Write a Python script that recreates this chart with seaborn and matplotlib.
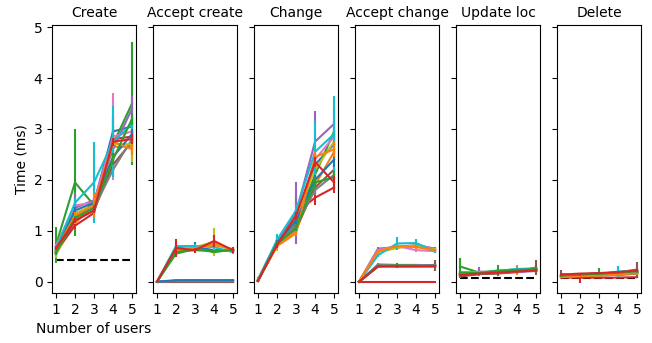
import numpy as np
import pandas as pd
import matplotlib
matplotlib.use("Agg")
import matplotlib.pyplot as plt
import seaborn as sns

# x axis
users = [1, 2, 3, 4, 5]
panel_titles = ["Create", "Accept create", "Change", "Accept change", "Update loc", "Delete"]
baselines = [0.43, None, None, None, 0.07, 0.07]

# mean times (ms), one row per run
create_mean = [
    [0.62, 1.25, 1.55, 2.95, 3.05],
    [0.55, 1.15, 1.50, 2.65, 2.65],
    [0.72, 1.95, 1.50, 2.70, 3.50],
    [0.60, 1.10, 1.35, 2.80, 2.85],
    [0.68, 1.45, 1.60, 2.60, 3.40],
    [0.58, 1.20, 1.40, 2.30, 2.75],
    [0.70, 1.50, 1.55, 2.85, 2.95],
    [0.57, 1.30, 1.45, 2.20, 2.80],
    [0.52, 1.35, 1.50, 2.70, 2.70],
    [0.65, 1.55, 1.95, 2.75, 3.10],
    [0.60, 1.40, 1.55, 2.45, 2.90],
    [0.63, 1.30, 1.50, 2.75, 2.60],
    [0.56, 1.25, 1.45, 2.40, 3.20],
    [0.66, 1.20, 1.40, 2.75, 2.80],
]
create_err = [
    [0.05, 0.08, 0.06, 0.10, 0.15],
    [0.04, 0.10, 0.08, 0.60, 0.30],
    [0.35, 1.05, 0.08, 0.15, 1.20],
    [0.04, 0.06, 0.10, 0.45, 0.10],
    [0.06, 0.30, 0.08, 0.40, 0.25],
    [0.03, 0.05, 0.06, 0.08, 0.10],
    [0.05, 0.08, 0.07, 0.85, 0.12],
    [0.04, 0.05, 0.06, 0.08, 0.10],
    [0.05, 0.22, 0.06, 0.10, 0.35],
    [0.06, 0.10, 0.80, 0.70, 0.20],
    [0.04, 0.06, 0.06, 0.08, 0.10],
    [0.05, 0.06, 0.25, 0.10, 0.12],
    [0.04, 0.05, 0.06, 0.10, 0.12],
    [0.04, 0.05, 0.06, 0.08, 0.10],
]

accept_create_mean = [
    [0, 0.66, 0.68, 0.62, 0.62],
    [0, 0.62, 0.65, 0.75, 0.62],
    [0, 0.55, 0.65, 0.58, 0.63],
    [0, 0.00, 0.00, 0.00, 0.00],
    [0, 0.02, 0.03, 0.02, 0.03],
    [0, 0.00, 0.00, 0.00, 0.00],
    [0, 0.02, 0.02, 0.03, 0.02],
    [0, 0.01, 0.01, 0.01, 0.01],
    [0, 0.64, 0.68, 0.78, 0.60],
    [0, 0.70, 0.70, 0.68, 0.58],
    [0, 0.03, 0.03, 0.03, 0.03],
    [0, 0.60, 0.66, 0.72, 0.64],
    [0, 0.58, 0.62, 0.60, 0.62],
    [0, 0.66, 0.62, 0.80, 0.62],
]
accept_create_err = [
    [0, 0.03, 0.10, 0.03, 0.03],
    [0, 0.04, 0.03, 0.06, 0.03],
    [0, 0.03, 0.03, 0.04, 0.03],
    [0, 0.00, 0.00, 0.00, 0.00],
    [0, 0.01, 0.01, 0.01, 0.01],
    [0, 0.00, 0.00, 0.00, 0.00],
    [0, 0.01, 0.01, 0.01, 0.01],
    [0, 0.01, 0.01, 0.01, 0.01],
    [0, 0.03, 0.03, 0.28, 0.03],
    [0, 0.04, 0.05, 0.03, 0.04],
    [0, 0.01, 0.01, 0.01, 0.01],
    [0, 0.03, 0.03, 0.04, 0.03],
    [0, 0.03, 0.03, 0.03, 0.03],
    [0, 0.17, 0.05, 0.12, 0.06],
]

change_mean = [
    [0.02, 0.75, 1.25, 2.30, 2.70],
    [0.03, 0.70, 1.00, 1.90, 2.55],
    [0.01, 0.78, 1.15, 2.10, 2.95],
    [0.02, 0.72, 1.35, 1.65, 1.85],
    [0.05, 0.80, 1.35, 2.75, 3.10],
    [0.02, 0.76, 1.05, 1.85, 2.20],
    [0.03, 0.74, 1.20, 2.40, 2.85],
    [0.01, 0.78, 1.10, 1.80, 2.10],
    [0.04, 0.72, 1.30, 2.20, 2.75],
    [0.03, 0.82, 1.40, 2.55, 2.90],
    [0.02, 0.76, 1.20, 2.00, 2.40],
    [0.03, 0.70, 0.95, 2.45, 2.60],
    [0.02, 0.74, 1.05, 1.95, 2.05],
    [0.02, 0.72, 1.30, 2.35, 1.95],
]
change_err = [
    [0.02, 0.05, 0.08, 0.15, 0.20],
    [0.02, 0.05, 0.06, 0.10, 0.15],
    [0.02, 0.05, 0.06, 0.10, 0.20],
    [0.02, 0.05, 0.35, 0.15, 0.10],
    [0.04, 0.08, 0.60, 0.60, 0.30],
    [0.02, 0.05, 0.06, 0.10, 0.12],
    [0.02, 0.05, 0.06, 0.10, 0.15],
    [0.02, 0.05, 0.06, 0.10, 0.12],
    [0.02, 0.12, 0.10, 0.15, 0.20],
    [0.02, 0.12, 0.10, 0.60, 0.75],
    [0.02, 0.05, 0.06, 0.10, 0.15],
    [0.02, 0.05, 0.06, 0.10, 0.15],
    [0.02, 0.05, 0.06, 0.10, 0.12],
    [0.02, 0.05, 0.06, 0.10, 0.12],
]

accept_change_mean = [
    [0, 0.32, 0.32, 0.32, 0.33],
    [0, 0.60, 0.68, 0.70, 0.62],
    [0, 0.30, 0.31, 0.31, 0.31],
    [0, 0.00, 0.00, 0.00, 0.00],
    [0, 0.65, 0.68, 0.72, 0.65],
    [0, 0.32, 0.31, 0.32, 0.32],
    [0, 0.62, 0.70, 0.62, 0.60],
    [0, 0.34, 0.33, 0.33, 0.32],
    [0, 0.58, 0.66, 0.72, 0.63],
    [0, 0.52, 0.75, 0.76, 0.60],
    [0, 0.31, 0.30, 0.30, 0.31],
    [0, 0.60, 0.70, 0.68, 0.62],
    [0, 0.30, 0.32, 0.31, 0.30],
    [0, 0.30, 0.30, 0.30, 0.30],
]
accept_change_err = [
    [0, 0.02, 0.05, 0.03, 0.03],
    [0, 0.03, 0.03, 0.03, 0.03],
    [0, 0.02, 0.02, 0.02, 0.02],
    [0, 0.00, 0.00, 0.00, 0.00],
    [0, 0.04, 0.03, 0.03, 0.03],
    [0, 0.02, 0.02, 0.02, 0.10],
    [0, 0.03, 0.03, 0.03, 0.03],
    [0, 0.02, 0.02, 0.02, 0.02],
    [0, 0.03, 0.03, 0.03, 0.03],
    [0, 0.03, 0.12, 0.08, 0.04],
    [0, 0.02, 0.02, 0.02, 0.02],
    [0, 0.03, 0.03, 0.03, 0.03],
    [0, 0.02, 0.02, 0.02, 0.02],
    [0, 0.02, 0.02, 0.02, 0.02],
]

update_loc_mean = [
    [0.18, 0.18, 0.20, 0.22, 0.24],
    [0.15, 0.17, 0.19, 0.23, 0.22],
    [0.30, 0.18, 0.22, 0.24, 0.26],
    [0.12, 0.15, 0.17, 0.20, 0.22],
    [0.14, 0.20, 0.18, 0.19, 0.21],
    [0.10, 0.15, 0.16, 0.19, 0.28],
    [0.16, 0.17, 0.18, 0.20, 0.23],
    [0.13, 0.16, 0.18, 0.21, 0.24],
    [0.17, 0.19, 0.20, 0.22, 0.25],
    [0.15, 0.18, 0.21, 0.25, 0.26],
    [0.14, 0.17, 0.20, 0.22, 0.24],
    [0.16, 0.18, 0.19, 0.21, 0.23],
    [0.18, 0.17, 0.21, 0.23, 0.25],
    [0.13, 0.16, 0.18, 0.20, 0.22],
]
update_loc_err = [
    [0.03, 0.02, 0.02, 0.02, 0.03],
    [0.03, 0.02, 0.02, 0.10, 0.03],
    [0.16, 0.03, 0.11, 0.03, 0.04],
    [0.02, 0.02, 0.02, 0.02, 0.03],
    [0.03, 0.09, 0.02, 0.02, 0.03],
    [0.02, 0.02, 0.02, 0.02, 0.14],
    [0.02, 0.02, 0.02, 0.02, 0.03],
    [0.02, 0.02, 0.02, 0.02, 0.03],
    [0.02, 0.02, 0.02, 0.02, 0.03],
    [0.02, 0.02, 0.02, 0.04, 0.03],
    [0.02, 0.02, 0.02, 0.02, 0.03],
    [0.02, 0.02, 0.02, 0.02, 0.03],
    [0.02, 0.02, 0.02, 0.02, 0.03],
    [0.02, 0.02, 0.02, 0.02, 0.03],
]

delete_mean = [
    [0.12, 0.13, 0.14, 0.16, 0.18],
    [0.10, 0.11, 0.13, 0.15, 0.17],
    [0.13, 0.14, 0.17, 0.17, 0.19],
    [0.08, 0.08, 0.08, 0.08, 0.09],
    [0.11, 0.13, 0.14, 0.13, 0.16],
    [0.15, 0.12, 0.15, 0.18, 0.24],
    [0.10, 0.12, 0.13, 0.15, 0.18],
    [0.09, 0.11, 0.12, 0.14, 0.16],
    [0.12, 0.13, 0.15, 0.16, 0.19],
    [0.11, 0.13, 0.15, 0.20, 0.22],
    [0.10, 0.12, 0.14, 0.16, 0.20],
    [0.09, 0.11, 0.12, 0.14, 0.17],
    [0.12, 0.14, 0.16, 0.18, 0.21],
    [0.14, 0.16, 0.17, 0.19, 0.22],
]
delete_err = [
    [0.02, 0.02, 0.02, 0.02, 0.03],
    [0.02, 0.02, 0.02, 0.02, 0.03],
    [0.02, 0.02, 0.10, 0.02, 0.03],
    [0.01, 0.10, 0.01, 0.01, 0.02],
    [0.02, 0.02, 0.02, 0.04, 0.03],
    [0.08, 0.02, 0.02, 0.02, 0.14],
    [0.02, 0.02, 0.02, 0.02, 0.03],
    [0.02, 0.02, 0.02, 0.02, 0.03],
    [0.02, 0.02, 0.02, 0.02, 0.03],
    [0.02, 0.02, 0.02, 0.10, 0.03],
    [0.02, 0.02, 0.02, 0.02, 0.03],
    [0.02, 0.02, 0.02, 0.02, 0.03],
    [0.02, 0.02, 0.02, 0.02, 0.03],
    [0.02, 0.02, 0.02, 0.02, 0.03],
]

means = [create_mean, accept_create_mean, change_mean,
         accept_change_mean, update_loc_mean, delete_mean]
errs = [create_err, accept_create_err, change_err,
        accept_change_err, update_loc_err, delete_err]

palette = sns.color_palette("tab10", 10)

fig, axes = plt.subplots(1, 6, figsize=(6.52, 3.43), dpi=100, sharey=True)
fig.subplots_adjust(left=0.08, right=0.983, top=0.927, bottom=0.146, wspace=0.207)

for ax, title, mean_rows, err_rows, base in zip(axes, panel_titles, means, errs, baselines):
    if base is not None:
        ax.plot([users[0], users[-1]], [base, base], "k--", lw=1.5, zorder=1)
    for i, (m, e) in enumerate(zip(mean_rows, err_rows)):
        c = palette[i % 10]
        df = pd.DataFrame({"users": users, "time": m})
        sns.lineplot(data=df, x="users", y="time", color=c, lw=1.5, ax=ax,
                     errorbar=None, zorder=2)
        ax.errorbar(users, m, yerr=e, fmt="none", ecolor=c, elinewidth=1.5,
                    capsize=0, zorder=2)
    ax.set_title(title, fontsize=10)
    ax.set_xticks(users)
    ax.set_xlim(0.8, 5.2)
    ax.set_xlabel("")
    ax.set_ylabel("")
    ax.tick_params(labelsize=10)

axes[0].set_ylim(-0.22, 5.04)
axes[0].set_yticks([0, 1, 2, 3, 4, 5])
axes[0].set_ylabel("Time (ms)", fontsize=10)
axes[0].set_xlabel("Number of users", fontsize=10)

fig.savefig("out.png", dpi=100)
